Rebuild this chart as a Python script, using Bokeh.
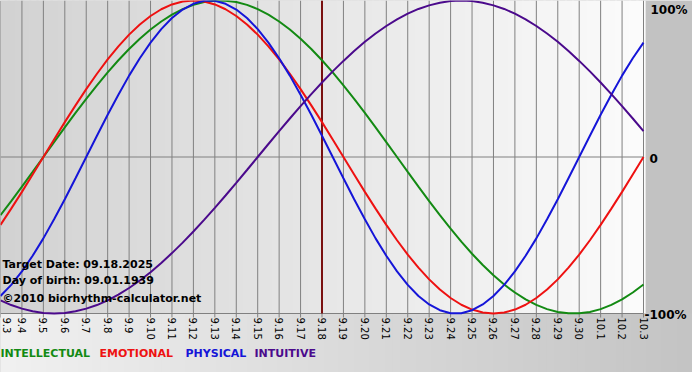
import math
from bokeh.plotting import figure
from bokeh.models import Range1d, ColumnDataSource
from bokeh.core.properties import value
from bokeh.embed import file_html
from bokeh.resources import INLINE

# ---------------- data ----------------
dates = ["9.3", "9.4", "9.5", "9.6", "9.7", "9.8", "9.9", "9.10", "9.11", "9.12",
         "9.13", "9.14", "9.15", "9.16", "9.17", "9.18", "9.19", "9.20", "9.21", "9.22",
         "9.23", "9.24", "9.25", "9.26", "9.27", "9.28", "9.29", "9.30", "10.1", "10.2", "10.3"]
target_label = "9.18"

# readings every half day, from 9.3 (day 0) to 10.3 (day 30)
sample_days = [i / 2 for i in range(61)]

intellectual = [-0.372, -0.282, -0.189, -0.095, 0.000, 0.095, 0.189, 0.282, 0.372, 0.458,
                0.541, 0.618, 0.690, 0.756, 0.815, 0.866, 0.910, 0.945, 0.972, 0.990,
                0.999, 0.999, 0.990, 0.972, 0.945, 0.910, 0.866, 0.815, 0.756, 0.690,
                0.618, 0.541, 0.458, 0.372, 0.282, 0.189, 0.095, 0.000, -0.095, -0.189,
                -0.282, -0.372, -0.458, -0.541, -0.618, -0.690, -0.756, -0.815, -0.866, -0.910,
                -0.945, -0.972, -0.990, -0.999, -0.999, -0.990, -0.972, -0.945, -0.910, -0.866,
                -0.815]
emotional = [-0.434, -0.330, -0.223, -0.112, 0.000, 0.112, 0.223, 0.330, 0.434, 0.532,
             0.624, 0.707, 0.782, 0.847, 0.901, 0.944, 0.975, 0.994, 1.000, 0.994,
             0.975, 0.944, 0.901, 0.847, 0.782, 0.707, 0.624, 0.532, 0.434, 0.330,
             0.223, 0.112, 0.000, -0.112, -0.223, -0.330, -0.434, -0.532, -0.624, -0.707,
             -0.782, -0.847, -0.901, -0.944, -0.975, -0.994, -1.000, -0.994, -0.975, -0.944,
             -0.901, -0.847, -0.782, -0.707, -0.624, -0.532, -0.434, -0.330, -0.223, -0.112,
             0.000]
physical = [-0.888, -0.817, -0.731, -0.631, -0.520, -0.398, -0.270, -0.136, 0.000, 0.136,
            0.270, 0.398, 0.520, 0.631, 0.731, 0.817, 0.888, 0.942, 0.979, 0.998,
            0.998, 0.979, 0.942, 0.888, 0.817, 0.731, 0.631, 0.520, 0.398, 0.270,
            0.136, 0.000, -0.136, -0.270, -0.398, -0.520, -0.631, -0.731, -0.817, -0.888,
            -0.942, -0.979, -0.998, -0.998, -0.979, -0.942, -0.888, -0.817, -0.731, -0.631,
            -0.520, -0.398, -0.270, -0.136, 0.000, 0.136, 0.270, 0.398, 0.520, 0.631,
            0.731]
intuitive = [-0.916, -0.946, -0.969, -0.986, -0.997, -1.000, -0.997, -0.986, -0.969, -0.946,
             -0.916, -0.880, -0.837, -0.789, -0.736, -0.677, -0.614, -0.547, -0.476, -0.402,
             -0.325, -0.246, -0.165, -0.083, 0.000, 0.083, 0.165, 0.246, 0.325, 0.402,
             0.476, 0.547, 0.614, 0.677, 0.736, 0.789, 0.837, 0.880, 0.916, 0.946,
             0.969, 0.986, 0.997, 1.000, 0.997, 0.986, 0.969, 0.946, 0.916, 0.880,
             0.837, 0.789, 0.736, 0.677, 0.614, 0.547, 0.476, 0.402, 0.325, 0.246,
             0.165]

y_tick_values = [1, 0, -1]
y_tick_labels = ["100%", "0", "-100%"]
legend_names = ["INTELLECTUAL", "EMOTIONAL", "PHYSICAL", "INTUITIVE"]
info_lines = ["Target Date: 09.18.2025", "Day of birth: 09.01.1939", "\u00a92010 biorhythm-calculator.net"]

# ---------------- layout ----------------
W, H = 692, 372
PLOT_W, PLOT_H = 643, 313
n_days = len(dates) - 1
px_per_day = PLOT_W / n_days
px_per_unit = PLOT_H / 2.0
x_end = W / px_per_day
y_start = 1 - H / px_per_unit


def X(px):
    return px / px_per_day


def Y(py):
    return 1 - py / px_per_unit


def mix(c0, c1, t):
    r = [round(a + (b - a) * t) for a, b in zip(c0, c1)]
    return "#%02x%02x%02x" % tuple(r)


FONT = value("DejaVu Sans")

p = figure(width=W, height=H, x_range=Range1d(0, x_end), y_range=Range1d(y_start, 1),
           output_backend="svg", toolbar_location=None, min_border=0,
           x_axis_location=None, y_axis_location=None)
p.grid.visible = False
p.outline_line_color = None
p.background_fill_color = "#c2c2c2"
p.border_fill_color = "#c2c2c2"

# plot-area gradient (left grey -> right white)
NB = 90
bw = n_days / NB
lefts = [i * bw for i in range(NB)]
p.quad(left=lefts, right=[l + bw * 1.3 for l in lefts], bottom=-1, top=1,
       fill_color=[mix((210, 210, 210), (251, 251, 251), i / (NB - 1)) for i in range(NB)],
       line_color=None)

# bottom-area gradient (left light -> right grey)
bw2 = x_end / NB
lefts2 = [i * bw2 for i in range(NB)]
p.quad(left=lefts2, right=[l + bw2 * 1.3 for l in lefts2], bottom=y_start, top=-1,
       fill_color=[mix((240, 240, 240), (196, 196, 196), i / (NB - 1)) for i in range(NB)],
       line_color=None)

days = list(range(len(dates)))
grid_c = "#808080"
p.segment(x0=days, y0=-1, x1=days, y1=1, line_color=grid_c, line_width=1)
p.segment(x0=[0, 0], y0=[0, -1], x1=[n_days, n_days], y1=[0, -1], line_color=grid_c, line_width=1)
p.segment(x0=days, y0=-1, x1=days, y1=Y(PLOT_H + 4), line_color=grid_c, line_width=1)

# target date line
ti = dates.index(target_label)
p.segment(x0=[ti], y0=[-1], x1=[ti], y1=[1], line_color="#7a1010", line_width=2)

# curves
p.line(sample_days, intellectual, line_color="#138a13", line_width=2)
p.line(sample_days, emotional, line_color="#ee1111", line_width=2)
p.line(sample_days, physical, line_color="#1515d8", line_width=2)
p.line(sample_days, intuitive, line_color="#4b0a8c", line_width=2)

# x tick labels (rotated, reading downward); first one nudged inside the canvas
tick_src = ColumnDataSource(dict(x=days, text=dates,
                                 xo=[6 if i == 0 else 0 for i in days]))
p.text(x="x", y=Y(PLOT_H + 4), text="text", x_offset="xo", source=tick_src,
       angle=-math.pi / 2, text_align="left", text_baseline="middle", text_font=FONT,
       text_font_size="10px", text_color="#000000")

# right-side labels
offsets = [(7, 2, "top"), (6, 1, "middle"), (1, 1, "middle")]
for v, lab, (xo, yo, base) in zip(y_tick_values, y_tick_labels, offsets):
    p.text(x=[n_days], y=[v], text=[lab], x_offset=xo, y_offset=yo,
           text_align="left", text_baseline=base, text_font=FONT,
           text_font_size="12px", text_font_style="bold", text_color="#000000")

# info text
p.text(x=X(2), y=[Y(264), Y(280), Y(298)], text=info_lines,
       text_align="left", text_baseline="middle", text_font=FONT,
       text_font_size="11px", text_font_style="bold", text_color="#000000")

# legend
p.text(x=[X(0), X(99), X(185), X(254)], y=Y(353), text=legend_names,
       text_color=["#138a13", "#ee1111", "#1515d8", "#4b0a8c"],
       text_align="left", text_baseline="middle", text_font=FONT,
       text_font_size="11px", text_font_style="bold")

open("out.html", "w").write(file_html(p, INLINE))
